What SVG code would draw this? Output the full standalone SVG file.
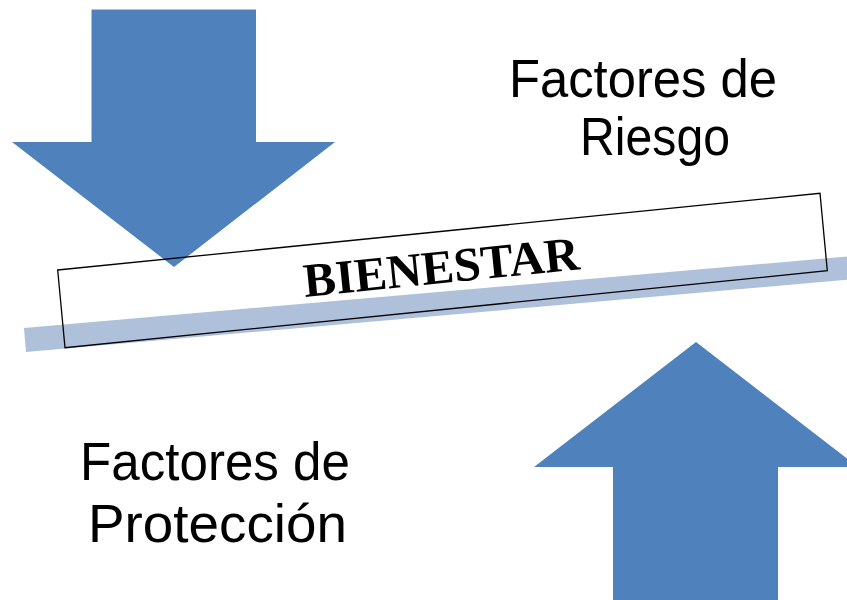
<svg xmlns="http://www.w3.org/2000/svg" width="847" height="600" viewBox="0 0 847 600">
  <style>
    .arrow { fill: #4F81BD; }
    .bar { fill: #AFC0DB; }
    .box { fill: none; stroke: #000000; stroke-width: 1.3; }
    .label { font-family: "Liberation Sans", Arial, sans-serif; font-size: 53px; fill: #000000; }
    .title { font-family: "Liberation Serif", "Times New Roman", serif; font-size: 48px; font-weight: bold; fill: #000000; }
  </style>
  <rect width="847" height="600" fill="#ffffff"/>
  <g id="bar">
    <polygon class="bar" points="24,328 847,256.5 847,279.8 26,352"/>
  </g>
  <g id="arrow-down">
    <polygon class="arrow" points="91.5,9.5 256,9.5 256,142 335,142 174,267 12,142 91.5,142"/>
  </g>
  <g id="arrow-up">
    <polygon class="arrow" points="696,342 858,467 778,467 778,600 613,600 613,467 534,467"/>
  </g>
  <g id="bienestar">
    <polygon class="box" points="57.7,270 820,193.3 827.3,270.7 65,347.7"/>
    <text class="title" x="305" y="297" textLength="277" lengthAdjust="spacingAndGlyphs" transform="rotate(-5.77 305 297)">BIENESTAR</text>
  </g>
  <g id="riesgo">
    <text class="label" x="509" y="97" textLength="268" lengthAdjust="spacingAndGlyphs">Factores de</text>
    <text class="label" x="580" y="155" textLength="150" lengthAdjust="spacingAndGlyphs">Riesgo</text>
  </g>
  <g id="proteccion">
    <text class="label" x="80" y="480" textLength="270" lengthAdjust="spacingAndGlyphs">Factores de</text>
    <text class="label" x="88" y="542" textLength="259" lengthAdjust="spacingAndGlyphs">Protección</text>
  </g>
  <g id="connectors"/>
</svg>
